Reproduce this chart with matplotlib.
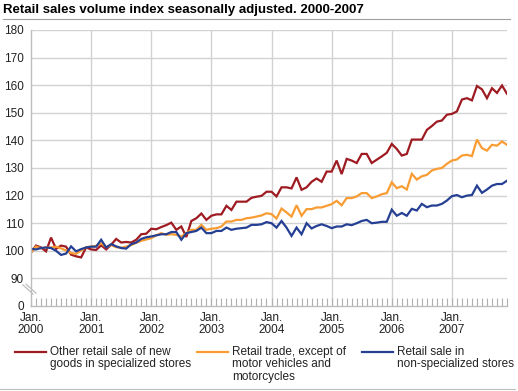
import matplotlib
matplotlib.use("Agg")
import matplotlib.pyplot as plt
from matplotlib.lines import Line2D
import numpy as np

# monthly index, Jan 2000 - Dec 2007
other_specialized = [
    99.3, 101.9, 101.2, 99.8, 104.8, 100.7, 101.9, 101.5, 98.6, 98.0, 97.6, 101.2,
    100.5, 100.3, 102.0, 100.5, 102.2, 104.3, 103.0, 103.2, 103.0, 104.0, 106.0, 106.2,
    108.0, 107.8, 108.6, 109.3, 110.2, 107.6, 108.8, 105.0, 110.8, 111.8, 113.5, 111.2,
    112.7, 113.2, 113.2, 116.3, 114.8, 117.8, 117.8, 117.8, 119.2, 119.6, 119.9, 121.4,
    121.4, 119.7, 123.0, 123.0, 122.6, 126.6, 122.1, 123.0, 125.0, 126.2, 125.0, 128.7,
    128.7, 132.7, 127.8, 133.3, 132.7, 131.8, 135.1, 135.1, 131.8, 133.0, 134.2, 135.5,
    138.7, 136.9, 134.5, 135.1, 140.3, 140.3, 140.3, 143.8, 145.2, 146.8, 147.2, 149.3,
    149.6, 150.5, 154.8, 155.3, 154.5, 159.7, 158.5, 155.3, 158.9, 157.2, 159.9, 156.9,
]
retail_trade = [
    99.4, 101.5, 100.9, 101.2, 101.2, 101.5, 100.9, 100.1, 99.2, 98.9, 100.1, 101.3,
    101.5, 101.8, 102.7, 101.3, 102.1, 101.3, 101.1, 101.5, 102.1, 102.9, 103.6, 104.1,
    104.6, 105.6, 106.4, 105.8, 106.0, 105.8, 105.2, 106.4, 107.6, 107.6, 109.4, 107.6,
    108.0, 108.2, 108.8, 110.6, 110.6, 111.2, 111.2, 111.8, 112.0, 112.4, 112.8, 113.6,
    113.3, 111.7, 115.3, 113.9, 112.4, 116.5, 112.7, 115.1, 115.1, 115.7, 115.7, 116.3,
    116.9, 118.1, 116.5, 119.1, 119.1, 119.7, 120.9, 120.9, 119.1, 119.7, 120.5, 120.9,
    124.8, 122.7, 123.4, 122.2, 127.9, 125.8, 127.0, 127.5, 129.1, 129.7, 130.0, 131.5,
    132.7, 133.1, 134.5, 134.8, 134.3, 140.3, 137.2, 136.3, 138.4, 138.1, 139.6, 138.4,
]
non_specialized = [
    100.7, 100.5, 101.0, 101.2, 101.0, 100.0, 98.5, 99.0, 101.6, 99.8, 100.6, 101.2,
    101.5, 101.5, 104.0, 101.2, 102.4, 101.6, 101.0, 100.8, 102.4, 103.0, 104.3, 104.9,
    105.2, 105.6, 106.0, 106.0, 106.8, 106.8, 104.0, 106.4, 106.8, 107.2, 108.4, 106.4,
    106.4, 107.2, 107.2, 108.4, 107.6, 108.0, 108.2, 108.4, 109.4, 109.4, 109.6, 110.4,
    110.0, 108.4, 110.8, 108.4, 105.4, 108.4, 106.0, 110.0, 108.1, 109.0, 109.6, 109.0,
    108.2, 108.8, 108.8, 109.6, 109.3, 110.0, 110.8, 111.2, 110.0, 110.2, 110.5, 110.5,
    114.9, 112.7, 113.7, 112.7, 115.2, 114.6, 117.0, 115.8, 116.4, 116.4, 117.0, 118.2,
    119.8, 120.2, 119.4, 120.0, 120.2, 123.6, 121.0, 122.2, 123.6, 124.2, 124.2, 125.4,
]
years = [str(y) for y in range(2000, 2008)]
series_labels = [
    "Other retail sale of new\ngoods in specialized stores",
    "Retail trade, except of\nmotor vehicles and\nmotorcycles",
    "Retail sale in\nnon-specialized stores",
]
colors = ["#9e1b22", "#f99c33", "#253f93"]
grid_c = "#d2d2d2"

plt.rcParams["font.family"] = ["Liberation Sans", "DejaVu Sans"]

W, H = 518, 391
fig = plt.figure(figsize=(W / 100, H / 100), dpi=100)
# axes: left x=31, right x=507, bottom y=306, top y=30
ax = fig.add_axes([31 / W, (H - 306) / H, 476 / W, 276 / H])

months = np.arange(len(other_specialized))
for vals, c in zip([other_specialized, retail_trade, non_specialized], colors):
    ax.plot(months, vals, color=c, lw=1.6, solid_joinstyle="miter")

ax.set_xlim(0, 95)
ax.set_ylim(80, 180)
yt = np.arange(80, 181, 10)
ax.set_yticks(yt)
ax.set_yticklabels(["0"] + [str(v) for v in yt[1:]])
ax.set_xticks(np.arange(0, 96, 12))
ax.set_xticklabels(["Jan.\n" + y for y in years], linespacing=1.0)
ax.set_xticks(np.arange(0, 96, 1), minor=True)
ax.tick_params(axis="y", length=0, pad=5, labelsize=8.5, labelcolor="#222222")
ax.tick_params(axis="x", which="both", direction="in", length=6, width=0.8,
               color="#b0b0b0", labelsize=8.5, labelcolor="#222222", pad=4.5)
# lift the "0" label a touch so it clears the first date label
ax.get_yticklabels()[0].set_y(81.2)

for v in yt[1:]:
    ax.axhline(v, color=grid_c, lw=1.0, zorder=0)
for m in range(12, 96, 12):
    ax.axvline(m, color=grid_c, lw=1.0, zorder=0)

for s in ["top", "right"]:
    ax.spines[s].set_visible(False)
for s in ["left", "bottom"]:
    ax.spines[s].set_color("#bdbdbd")
    ax.spines[s].set_linewidth(1.0)

# axis break marks between 0 and 90
aw, ah = 476, 276
def to_ax(px, py):
    return (px - 31) / aw, (306 - py) / ah
for off in (0, 3):
    x0, y0 = to_ax(23 + off, 285 - off * 0.3)
    x1, y1 = to_ax(33 + off, 294 - off * 0.3)
    ax.plot([x0, x1], [y0, y1], transform=ax.transAxes, color="#bdbdbd",
            lw=0.9, clip_on=False)

# title and rules
fig.text(3 / W, 1 - 10 / H, "Retail sales volume index seasonally adjusted. 2000-2007",
         fontsize=9.5, fontweight="bold", va="center", ha="left")
fig.add_artist(Line2D([3 / W, 510 / W], [1 - 19 / H, 1 - 19 / H], color="#a0a0a0", lw=0.8))
fig.add_artist(Line2D([0, 515 / W], [1 - 389 / H, 1 - 389 / H], color="#c0c0c0", lw=0.8))

# legend
handle_x = [15, 197, 362]
for hx, lab, c in zip(handle_x, series_labels, colors):
    fig.add_artist(Line2D([hx / W, (hx + 31) / W], [1 - 352 / H, 1 - 352 / H], color=c, lw=1.6))
    fig.text((hx + 35) / W, 1 - 346 / H, lab, fontsize=8.5, va="top", ha="left",
             linespacing=1.05, color="#222222")

fig.savefig("out.png", dpi=100)
